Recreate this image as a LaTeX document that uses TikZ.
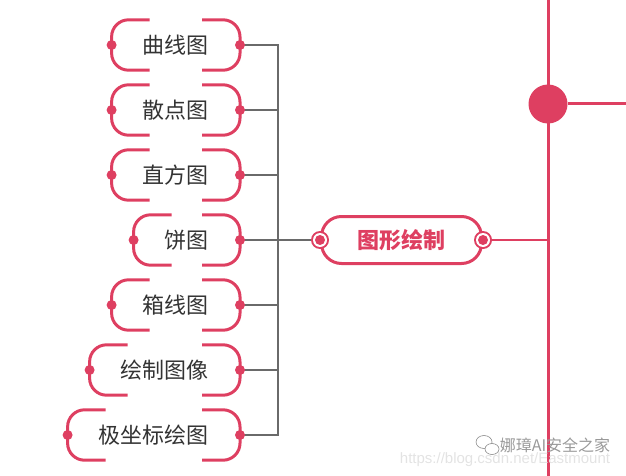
\documentclass[tikz,border=0pt]{standalone}
\usepackage{fontspec}
\setmainfont{Liberation Sans}
\newfontfamily\cjk{Noto Sans CJK SC}
\usetikzlibrary{calc}
\definecolor{mmred}{HTML}{DE3F61}
\definecolor{mmgray}{HTML}{6A6A6A}
\definecolor{mmtext}{HTML}{333333}
\begin{document}
\begin{tikzpicture}[x=1pt,y=-1pt,
  leaf/.style={font=\cjk\fontsize{22}{22}\selectfont, text=mmtext,
    minimum height=50pt, inner xsep=31pt, inner ysep=0pt, anchor=east},
  bracket/.style={draw=mmred, line width=3pt, rounded corners=17pt},
  core/.style={draw=mmred, line width=3pt, rounded corners=20pt,
    minimum width=160pt, minimum height=47pt, inner sep=0pt,
    font=\cjk\bfseries\fontsize{22}{22}\selectfont, text=mmred},
  gline/.style={draw=mmgray, line width=2pt},
  rline/.style={draw=mmred, line width=3pt},
  wmark/.style={font=\fontsize{15}{15}\selectfont, text=black!11}]
\useasboundingbox (0,0) rectangle (626,476);

% spine on the right
\coordinate (top) at (548,0);
\coordinate (bot) at (548,476);
\coordinate (redge) at (626,104);
\draw[rline] (top) -- (bot);
\node[circle, fill=mmred, minimum size=39pt, inner sep=0pt] (hubdot) at (548,104) {};
\draw[rline] (hubdot) -- (redge);

% central topic
\node[core] (core) at (401.5,240) {图形绘制};
\draw[rline, line width=2.5pt] (core.east) -- (core.east -| top);

% sub topics
\node[leaf] (l1) at (240,45)  {曲线图};
\node[leaf] (l2) at (240,110) {散点图};
\node[leaf] (l3) at (240,175) {直方图};
\node[leaf] (l4) at (240,240) {饼图};
\node[leaf] (l5) at (240,305) {箱线图};
\node[leaf] (l6) at (240,370) {绘制图像};
\node[leaf] (l7) at (240,435) {极坐标绘图};

% gray tree connectors
\coordinate (hub) at (278,240);
\draw[gline] (l1.east) -| (hub);
\draw[gline] (l7.east) -| (hub);
\foreach \n in {l2,l3,l5,l6}
  \draw[gline] (\n.east) -- (\n.east -| hub);
\draw[gline] (l4.east) -- (hub) -- (core.west);

% brackets and end dots of the sub topics
\foreach \n in {l1,l2,l3,l4,l5,l6,l7} {
  \draw[bracket] ($(\n.north west)+(38pt,0)$) -- (\n.north west)
    -- (\n.south west) -- ($(\n.south west)+(38pt,0)$);
  \draw[bracket] ($(\n.north east)+(-38pt,0)$) -- (\n.north east)
    -- (\n.south east) -- ($(\n.south east)+(-38pt,0)$);
  \fill[mmred] (\n.west) circle (5pt);
  \fill[mmred] (\n.east) circle (5pt);
}

% ring dots of the central topic
\foreach \a in {west,east} {
  \fill[mmred] (core.\a) circle (9pt);
  \fill[white] (core.\a) circle (7pt);
  \fill[mmred] (core.\a) circle (5pt);
}

% watermark
\node[wmark] (url) at (505,460) {https://blog.csdn.net/Eastmount};
\node[font=\cjk\fontsize{16}{16}\selectfont, text=black!40] (wm) at (555,445) {娜璋AI安全之家};
\draw[black!45, line width=0.6pt, fill=white] (484,442) ellipse (8pt and 6.5pt);
\draw[black!45, line width=0.6pt, fill=white] (492,449) ellipse (7pt and 5.5pt);
\end{tikzpicture}
\end{document}
